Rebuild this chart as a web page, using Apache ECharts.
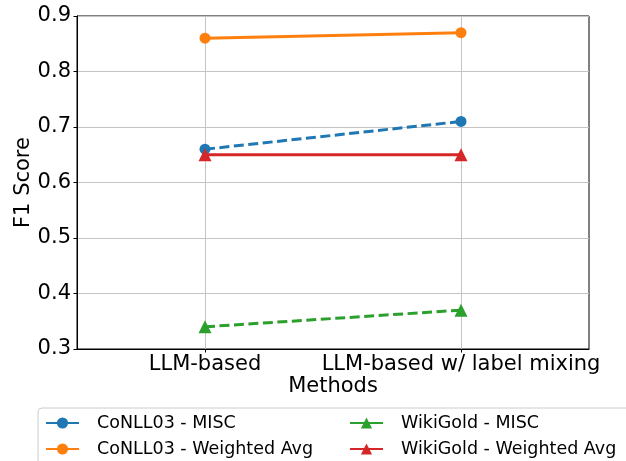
<!DOCTYPE html>
<html><head><meta charset="utf-8">
<script src="https://cdn.jsdelivr.net/npm/echarts@6/dist/echarts.min.js"></script>
<style>html,body{margin:0;padding:0;background:#fff}#c{width:626px;height:461px}</style>
</head><body><div id="c"></div>
<script>
const methods = ['LLM-based', 'LLM-based w/ label mixing'];
const conllMisc = [0.66, 0.71];
const conllWeighted = [0.86, 0.87];
const wikiMisc = [0.34, 0.37];
const wikiWeighted = [0.65, 0.65];
const yTicks = [0.3, 0.4, 0.5, 0.6, 0.7, 0.8, 0.9];

const F = 'DejaVu Sans';
const toPts = arr => arr.map((v, i) => [i, v]);
function mk(name, vals, color, symbol, dashed) {
  return {
    name, type: 'line', data: toPts(vals), symbol, symbolSize: symbol === 'circle' ? 11 : 13,
    itemStyle: { color },
    lineStyle: { color, width: 3, type: dashed ? [10, 4.5] : 'solid' },
    emphasis: { disabled: true }, animation: false
  };
}
const chart = echarts.init(document.getElementById('c'), null, { renderer: 'canvas' });
chart.setOption({
  animation: false,
  grid: { left: 77, right: 37, top: 16, bottom: 112, show: true, borderColor: '#000', borderWidth: 1, containLabel: false },
  xAxis: {
    type: 'value', min: -0.5, max: 1.5, interval: 0.5,
    name: 'Methods', nameLocation: 'middle', nameGap: 27, nameMoveOverlap: false,
    nameTextStyle: { fontFamily: F, fontSize: 21, color: '#000' },
    axisLine: { show: true, onZero: false, lineStyle: { color: '#000', width: 1 } },
    axisTick: { show: true, length: 3.5, customValues: [0, 1], lineStyle: { color: '#000' } },
    axisLabel: { customValues: [0, 1], margin: 5, fontFamily: F, fontSize: 21, color: '#000',
      formatter: v => methods[Math.round(v)] || '' },
    splitLine: { show: true, lineStyle: { color: '#c4c4c4', width: 1 } }
  },
  yAxis: {
    type: 'value', min: yTicks[0], max: yTicks[yTicks.length - 1], interval: 0.1,
    name: 'F1 Score', nameLocation: 'middle', nameGap: 43, nameMoveOverlap: false,
    nameTextStyle: { fontFamily: F, fontSize: 21, color: '#000' },
    axisLine: { show: true, onZero: false, lineStyle: { color: '#000', width: 1 } },
    axisTick: { show: true, length: 3.5, lineStyle: { color: '#000' } },
    axisLabel: { margin: 6, fontFamily: F, fontSize: 21, color: '#000', formatter: v => v.toFixed(1) },
    splitLine: { show: true, lineStyle: { color: '#c4c4c4', width: 1 } }
  },
  graphic: [{
    type: 'rect', shape: { x: 38, y: 408, width: 600, height: 70, r: 4 },
    style: { fill: 'rgba(255,255,255,0.8)', stroke: '#cccccc', lineWidth: 1 }, z: 0, silent: true
  }],
  legend: [
    { data: ['CoNLL03 - MISC', 'CoNLL03 - Weighted Avg'], orient: 'vertical', left: 45, top: 413,
      itemWidth: 33, itemHeight: 14, itemGap: 6, padding: 0, selectedMode: false,
      lineStyle: { type: 'solid' },
      textStyle: { fontFamily: F, fontSize: 17.5, color: '#000', lineHeight: 20, padding: [0, 0, 0, 13] } },
    { data: ['WikiGold - MISC', 'WikiGold - Weighted Avg'], orient: 'vertical', left: 349, top: 413,
      itemWidth: 33, itemHeight: 14, itemGap: 6, padding: 0, selectedMode: false,
      lineStyle: { type: 'solid' },
      textStyle: { fontFamily: F, fontSize: 17.5, color: '#000', lineHeight: 20, padding: [0, 0, 0, 13] } }
  ],
  series: [
    mk('CoNLL03 - MISC', conllMisc, '#1f77b4', 'circle', true),
    mk('CoNLL03 - Weighted Avg', conllWeighted, '#ff7f0e', 'circle', false),
    mk('WikiGold - MISC', wikiMisc, '#2ca02c', 'triangle', true),
    mk('WikiGold - Weighted Avg', wikiWeighted, '#d62728', 'triangle', false)
  ]
});
</script></body></html>
